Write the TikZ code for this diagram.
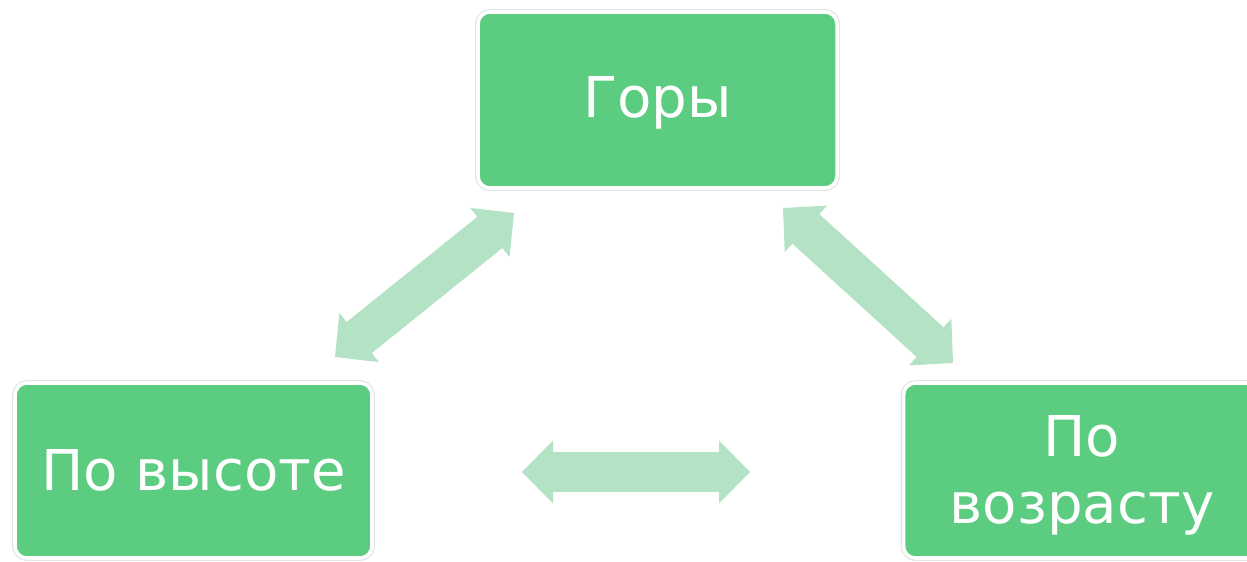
\documentclass[tikz,border=0pt]{standalone}
\usepackage{fontspec}
\setmainfont{DejaVu Sans}
\usepackage{tikz}
\usetikzlibrary{arrows.meta,positioning}
\definecolor{mgreen}{RGB}{91,204,128}
\definecolor{mlightgreen}{RGB}{180,226,197}
\definecolor{mrim}{RGB}{225,230,227}
\tikzstyle{topicbox} = [rectangle, rounded corners=0.24cm, minimum width=7.14cm, minimum height=3.5cm, text centered, align=center, fill=mgreen, draw=white, line width=2pt, preaction={draw=mrim, line width=3.4pt}, text=white, font=\fontsize{32}{38}\selectfont]
\tikzstyle{link} = [line width=0.8cm, color=mlightgreen, {Triangle[width=1.26cm, length=0.62cm, line width=0pt]}-{Triangle[width=1.26cm, length=0.62cm, line width=0pt]}]

\begin{document}
\begin{tikzpicture}
\useasboundingbox (0,0) rectangle (24.94,-11.24);
% Boxes
\node[topicbox, minimum width=7.18cm, minimum height=3.52cm, text depth=0.12cm] (mount) at (13.15,-2.0) {Горы};
\node[topicbox] (height) at (3.87,-9.41) {По высоте};
\node[topicbox, right=10.56cm of height, text depth=0.03cm] (age) {По\\возрасту};

% Arrows
\coordinate (a1) at (6.70,-7.14);
\coordinate (a2) at (10.28,-4.26);
\coordinate (b1) at (15.66,-4.16);
\coordinate (b2) at (19.06,-7.26);
\coordinate (c1) at (10.44,-9.44);
\coordinate (c2) at (15.00,-9.44);
\draw[link] (a1) -- (a2);
\draw[link] (b1) -- (b2);
\draw[link] (c1) -- (c2);
\end{tikzpicture}
\end{document}
